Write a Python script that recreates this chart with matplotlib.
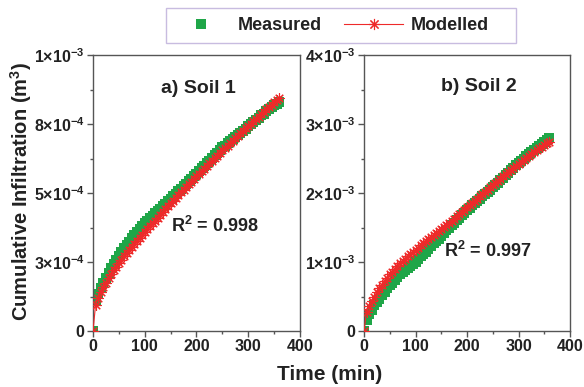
import matplotlib
matplotlib.use("Agg")
import matplotlib.pyplot as plt
from matplotlib.ticker import FixedLocator, FixedFormatter, MultipleLocator
from matplotlib.lines import Line2D
from matplotlib.patches import Rectangle

plt.rcParams['font.family'] = ['Liberation Sans', 'DejaVu Sans']
plt.rcParams['font.weight'] = 'bold'
plt.rcParams['mathtext.fontset'] = 'custom'
plt.rcParams['mathtext.rm'] = 'Liberation Sans:bold'
plt.rcParams['mathtext.bf'] = 'Liberation Sans:bold'
plt.rcParams['mathtext.it'] = 'Liberation Sans:bold'
plt.rcParams['mathtext.default'] = 'rm'

# ---- data ----
time_min = list(range(0, 365, 5))

soil1_measured = [0, 1.10, 1.35, 1.55, 1.75, 1.93, 2.10, 2.27, 2.43, 2.58, 2.73, 2.88, 3.00,
                  3.12, 3.24, 3.36, 3.47, 3.58, 3.69, 3.79, 3.90, 3.99, 4.08, 4.17, 4.26,
                  4.35, 4.43, 4.52, 4.61, 4.70, 4.79, 4.88, 4.97, 5.06, 5.15, 5.24, 5.33,
                  5.42, 5.51, 5.60, 5.70, 5.79, 5.89, 5.98, 6.08, 6.17, 6.27, 6.36, 6.46,
                  6.55, 6.65, 6.72, 6.80, 6.88, 6.95, 7.03, 7.10, 7.18, 7.25, 7.33, 7.42,
                  7.50, 7.58, 7.66, 7.73, 7.81, 7.88, 7.96, 8.03, 8.11, 8.18, 8.24, 8.30]  # x1e-4
soil1_modelled = [0, 0.95, 1.20, 1.40, 1.58, 1.75, 1.91, 2.06, 2.20, 2.33, 2.46, 2.58, 2.70,
                  2.82, 2.94, 3.05, 3.16, 3.27, 3.38, 3.49, 3.60, 3.70, 3.80, 3.90, 4.00,
                  4.11, 4.21, 4.31, 4.42, 4.52, 4.62, 4.72, 4.82, 4.92, 5.02, 5.12, 5.22,
                  5.31, 5.41, 5.51, 5.60, 5.69, 5.79, 5.88, 5.98, 6.07, 6.17, 6.26, 6.35,
                  6.44, 6.54, 6.63, 6.72, 6.81, 6.90, 6.99, 7.08, 7.17, 7.25, 7.34, 7.43,
                  7.51, 7.60, 7.69, 7.77, 7.86, 7.94, 8.03, 8.11, 8.19, 8.28, 8.36, 8.45]  # x1e-4
soil2_measured = [0, 0.16, 0.24, 0.31, 0.37, 0.42, 0.47, 0.52, 0.57, 0.62, 0.66, 0.70, 0.74,
                  0.78, 0.82, 0.85, 0.88, 0.91, 0.94, 0.97, 1.00, 1.04, 1.08, 1.12, 1.15,
                  1.19, 1.23, 1.27, 1.31, 1.34, 1.38, 1.42, 1.46, 1.50, 1.53, 1.57, 1.61,
                  1.64, 1.68, 1.71, 1.75, 1.78, 1.82, 1.85, 1.88, 1.92, 1.95, 1.98, 2.02,
                  2.05, 2.08, 2.12, 2.15, 2.19, 2.22, 2.26, 2.29, 2.33, 2.36, 2.40, 2.43,
                  2.47, 2.50, 2.53, 2.56, 2.59, 2.62, 2.65, 2.68, 2.71, 2.74, 2.77, 2.80]  # x1e-3
soil2_modelled = [0, 0.28, 0.36, 0.43, 0.50, 0.56, 0.62, 0.67, 0.73, 0.77, 0.82, 0.86, 0.90,
                  0.94, 0.98, 1.01, 1.05, 1.08, 1.12, 1.15, 1.18, 1.21, 1.24, 1.27, 1.30,
                  1.33, 1.36, 1.39, 1.42, 1.45, 1.48, 1.51, 1.54, 1.57, 1.60, 1.63, 1.66,
                  1.69, 1.72, 1.75, 1.79, 1.82, 1.85, 1.88, 1.91, 1.95, 1.98, 2.01, 2.05,
                  2.08, 2.11, 2.15, 2.18, 2.21, 2.24, 2.27, 2.30, 2.33, 2.36, 2.39, 2.42,
                  2.45, 2.48, 2.51, 2.54, 2.57, 2.60, 2.62, 2.65, 2.67, 2.70, 2.72, 2.74]  # x1e-3

s1_meas = [v * 1e-4 for v in soil1_measured]
s1_mod = [v * 1e-4 for v in soil1_modelled]
s2_meas = [v * 1e-3 for v in soil2_measured]
s2_mod = [v * 1e-3 for v in soil2_modelled]

x_ticks = [0, 100, 200, 300, 400]
x_tick_labels = ['0', '100', '200', '300', '400']
y1_ticks = [0, 2.5e-4, 5e-4, 7.5e-4, 1e-3]
y1_tick_labels = ['0', r'$3{\times}10^{-4}$', r'$5{\times}10^{-4}$', r'$8{\times}10^{-4}$', r'$1{\times}10^{-3}$']
y2_ticks = [0, 1e-3, 2e-3, 3e-3, 4e-3]
y2_tick_labels = ['0', r'$1{\times}10^{-3}$', r'$2{\times}10^{-3}$', r'$3{\times}10^{-3}$', r'$4{\times}10^{-3}$']

green = '#1fa648'
red = '#ee2a2a'
spine_col = '#555555'
txt_col = '#222222'

fig = plt.figure(figsize=(5.84, 3.87), dpi=100)
ax1 = fig.add_axes([93/584, 56/387, 207/584, 276/387])
ax2 = fig.add_axes([364/584, 56/387, 206/584, 276/387])

star = (8, 2, 0)

def draw(ax, meas, mod, yticks, ylabels, ymax, title, r2, tpos, rpos):
    ax.plot(time_min, meas, linestyle='none', marker='s', markersize=7,
            color=green, markeredgewidth=0, zorder=2)
    ax.plot(time_min, mod, linestyle='-', linewidth=0.8, color=red, marker=star,
            markersize=7.5, markeredgewidth=0.8, markeredgecolor=red, zorder=3)
    ax.set_xlim(0, 400)
    ax.set_ylim(0, ymax)
    ax.xaxis.set_major_locator(FixedLocator(x_ticks))
    ax.xaxis.set_major_formatter(FixedFormatter(x_tick_labels))
    ax.xaxis.set_minor_locator(MultipleLocator(50))
    ax.yaxis.set_major_locator(FixedLocator(yticks))
    ax.yaxis.set_major_formatter(FixedFormatter(ylabels))
    ax.yaxis.set_minor_locator(MultipleLocator(ymax / 8))
    ax.tick_params(which='both', direction='out', top=False, right=False,
                   color=spine_col, width=1)
    ax.tick_params(which='major', length=4, labelsize=11.5, pad=2)
    ax.tick_params(which='minor', length=2.5)
    for lab in ax.get_xticklabels() + ax.get_yticklabels():
        lab.set_fontweight('bold')
        lab.set_color(txt_col)
    for sp in ax.spines.values():
        sp.set_color(spine_col)
        sp.set_linewidth(1)
    ax.text(tpos[0], tpos[1], title, transform=ax.transAxes, ha='center', va='center',
            fontsize=14, fontweight='bold', color=txt_col)
    ax.text(rpos[0], rpos[1], r2, transform=ax.transAxes, ha='center', va='center',
            fontsize=13, fontweight='bold', color=txt_col)

draw(ax1, s1_meas, s1_mod, y1_ticks, y1_tick_labels, 1e-3, 'a) Soil 1',
     r'R$^2$ = 0.998', (0.51, 0.88), (0.59, 0.38))
draw(ax2, s2_meas, s2_mod, y2_ticks, y2_tick_labels, 4e-3, 'b) Soil 2',
     r'R$^2$ = 0.997', (0.555, 0.885), (0.60, 0.29))

fig.text(330/584, 1 - 374/387, 'Time (min)', ha='center', va='center',
         fontsize=15, fontweight='bold', color=txt_col)
fig.text(21/584, 1 - 192/387, r'Cumulative Infiltration (m$^3$)', ha='center', va='center',
         rotation=90, fontsize=14.5, fontweight='bold', color=txt_col)

# legend frame
fig.add_artist(Rectangle((166/584, 1 - 43/387), 350/584, 35/387, transform=fig.transFigure,
                         facecolor='white', edgecolor='#c8bce0', linewidth=1, zorder=1))
handles = [Line2D([], [], linestyle='none', marker='s', markersize=7, color=green, markeredgewidth=0),
           Line2D([], [], linestyle='-', linewidth=0.8, color=red, marker=star, markersize=8,
                  markeredgewidth=0.8)]
leg = fig.legend(handles, ['Measured', 'Modelled'], ncol=2, loc='center',
                 bbox_to_anchor=(330/584, 1 - 26/387), frameon=False,
                 fontsize=13, handlelength=3.3, columnspacing=1.2, borderpad=0.3,
                 handletextpad=0.4)
leg.set_zorder(2)
for t in leg.get_texts():
    t.set_fontweight('bold')
    t.set_color(txt_col)

fig.savefig('out.png', dpi=100)
